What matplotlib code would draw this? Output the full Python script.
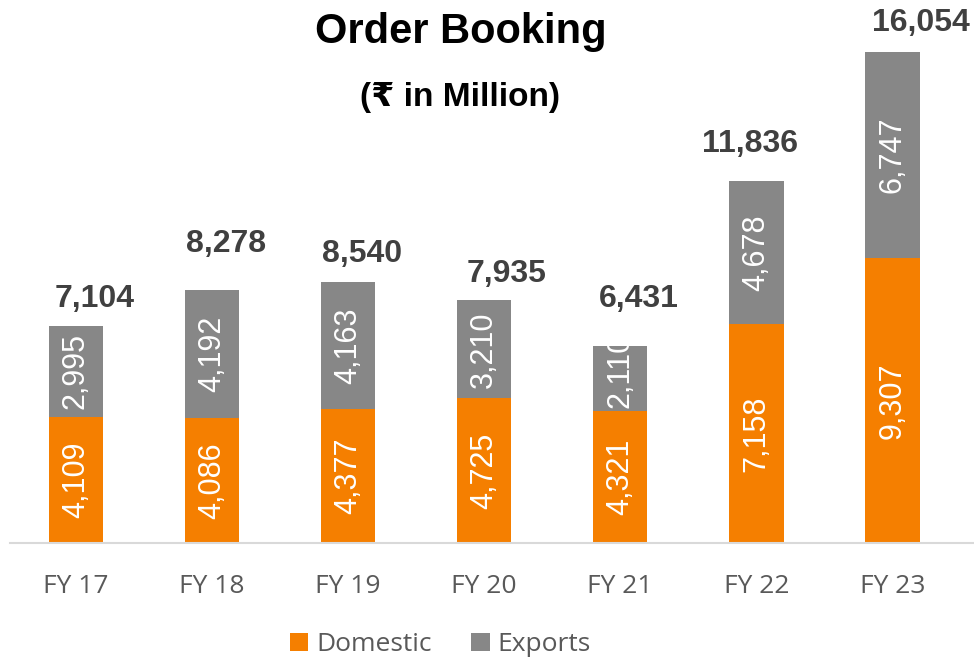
import numpy as np
import matplotlib.pyplot as plt

years = ["FY 17", "FY 18", "FY 19", "FY 20", "FY 21", "FY 22", "FY 23"]
domestic = [4109, 4086, 4377, 4725, 4321, 7158, 9307]
exports = [2995, 4192, 4163, 3210, 2110, 4678, 6747]
totals = [7104, 8278, 8540, 7935, 6431, 11836, 16054]

c_dom = "#F57F00"
c_exp = "#878787"
arial = ["Liberation Sans", "DejaVu Sans"]

fig = plt.figure(figsize=(9.74, 6.63), dpi=100)
ax = fig.add_axes([10 / 974, 1 - 543 / 663, 964 / 974, 543 / 663])

x = np.arange(len(years))
w = 0.4
b1 = ax.bar(x, domestic, w, color=c_dom, label="Domestic", zorder=2)
b2 = ax.bar(x, exports, w, bottom=domestic, color=c_exp, label="Exports", zorder=2)

ax.set_xlim(-0.485, 6.6)
ax.set_ylim(0, 17745)

# labels inside the bars (white, rotated, clipped to the bar like excel)
for i in range(len(years)):
    t = ax.text(x[i], domestic[i] / 2, f"{domestic[i]:,}", rotation=90,
                ha="center", va="center", color="white", fontsize=22,
                family=arial, zorder=3)
    t.set_clip_path(b1[i])
    ymid = max(domestic[i] + exports[i] / 2, domestic[i] + 1300)
    t = ax.text(x[i], ymid, f"{exports[i]:,}", rotation=90,
                ha="center", va="center", color="white", fontsize=22,
                family=arial, zorder=3)
    t.set_clip_path(b2[i])

# total labels, hand-placed above the bars (pixel offsets)
lbl_dx = [19, 14, 14, 22, 19, -6, 29]
lbl_dy = [27, 46, 28, 26, 47, 37, 29]
for i in range(len(years)):
    ax.annotate(f"{totals[i]:,}", (x[i], totals[i]), xytext=(lbl_dx[i], lbl_dy[i]),
                textcoords="offset pixels", ha="center", va="center",
                color="#404040", fontsize=23, fontweight="bold", family=arial,
                annotation_clip=False)

ax.set_xticks(x)
ax.set_xticklabels(years, fontsize=19, color="#595959", family="Open Sans")
ax.tick_params(axis="x", length=0, pad=22)
ax.set_yticks([])
for s in ["top", "right", "left"]:
    ax.spines[s].set_visible(False)
ax.spines["bottom"].set_color("#D9D9D9")
ax.spines["bottom"].set_linewidth(1.5)

fig.text(0.473, 0.951, "Order Booking", ha="center", va="center", fontsize=30,
         fontweight="bold", family=arial)
fig.text(0.472, 0.853, "(₹ in Million)", ha="center", va="center", fontsize=24,
         fontweight="bold", family=arial)

leg = fig.legend(loc="lower center", bbox_to_anchor=(0.452, -0.027), ncol=2,
                 frameon=False, handlelength=0.7, handleheight=0.7,
                 handletextpad=0.3, columnspacing=1.5,
                 prop={"family": "Open Sans", "size": 19})
for t in leg.get_texts():
    t.set_color("#595959")

fig.savefig("out.png", dpi=100)
